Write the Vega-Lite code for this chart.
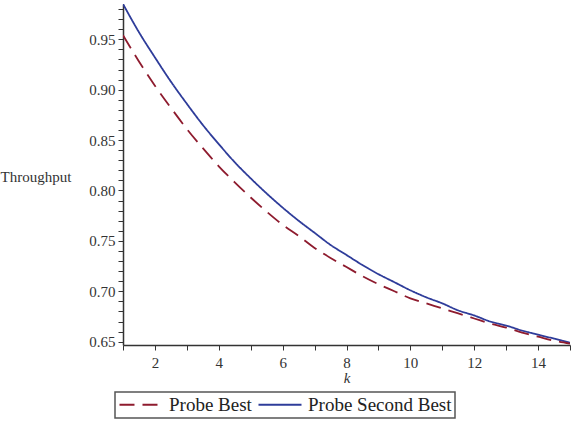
{
  "$schema": "https://vega.github.io/schema/vega-lite/v6.json",
  "width": 447,
  "height": 341,
  "autosize": {"type": "none"},
  "padding": {"left": 123, "top": 4, "right": 1, "bottom": 77},
  "background": "white",
  "config": {
    "view": {"stroke": null},
    "font": "Liberation Serif",
    "legend": {
      "orient": "none",
      "legendX": -8,
      "legendY": 388,
      "direction": "horizontal",
      "strokeColor": "#555",
      "strokeWidth": 1.5,
      "padding": 3,
      "symbolType": "stroke",
      "symbolSize": 1850,
      "symbolStrokeWidth": 2,
      "clipHeight": 19,
      "labelFont": "Liberation Serif",
      "labelFontSize": 19,
      "labelColor": "#222",
      "columnPadding": 5,
      "labelOffset": 5
    }
  },
  "data": {
    "values": [
      {"k": 1, "series": "Probe Second Best", "v": 0.985},
      {"k": 1.5, "series": "Probe Second Best", "v": 0.957},
      {"k": 2, "series": "Probe Second Best", "v": 0.932},
      {"k": 2.5, "series": "Probe Second Best", "v": 0.908},
      {"k": 3, "series": "Probe Second Best", "v": 0.886},
      {"k": 3.5, "series": "Probe Second Best", "v": 0.865},
      {"k": 4, "series": "Probe Second Best", "v": 0.846},
      {"k": 4.5, "series": "Probe Second Best", "v": 0.828},
      {"k": 5, "series": "Probe Second Best", "v": 0.812},
      {"k": 5.5, "series": "Probe Second Best", "v": 0.797},
      {"k": 6, "series": "Probe Second Best", "v": 0.783},
      {"k": 6.5, "series": "Probe Second Best", "v": 0.770},
      {"k": 7, "series": "Probe Second Best", "v": 0.758},
      {"k": 7.5, "series": "Probe Second Best", "v": 0.746},
      {"k": 8, "series": "Probe Second Best", "v": 0.736},
      {"k": 8.5, "series": "Probe Second Best", "v": 0.726},
      {"k": 9, "series": "Probe Second Best", "v": 0.717},
      {"k": 9.5, "series": "Probe Second Best", "v": 0.709},
      {"k": 10, "series": "Probe Second Best", "v": 0.701},
      {"k": 10.5, "series": "Probe Second Best", "v": 0.694},
      {"k": 11, "series": "Probe Second Best", "v": 0.688},
      {"k": 11.5, "series": "Probe Second Best", "v": 0.681},
      {"k": 12, "series": "Probe Second Best", "v": 0.676},
      {"k": 12.5, "series": "Probe Second Best", "v": 0.670},
      {"k": 13, "series": "Probe Second Best", "v": 0.666},
      {"k": 13.5, "series": "Probe Second Best", "v": 0.661},
      {"k": 14, "series": "Probe Second Best", "v": 0.657},
      {"k": 14.5, "series": "Probe Second Best", "v": 0.653},
      {"k": 15, "series": "Probe Second Best", "v": 0.649},
      {"k": 1, "series": "Probe Best", "v": 0.954},
      {"k": 1.5, "series": "Probe Best", "v": 0.928},
      {"k": 2, "series": "Probe Best", "v": 0.904},
      {"k": 2.5, "series": "Probe Best", "v": 0.882},
      {"k": 3, "series": "Probe Best", "v": 0.861},
      {"k": 3.5, "series": "Probe Best", "v": 0.842},
      {"k": 4, "series": "Probe Best", "v": 0.824},
      {"k": 4.5, "series": "Probe Best", "v": 0.808},
      {"k": 5, "series": "Probe Best", "v": 0.793},
      {"k": 5.5, "series": "Probe Best", "v": 0.779},
      {"k": 6, "series": "Probe Best", "v": 0.766},
      {"k": 6.5, "series": "Probe Best", "v": 0.755},
      {"k": 7, "series": "Probe Best", "v": 0.743},
      {"k": 7.5, "series": "Probe Best", "v": 0.733},
      {"k": 8, "series": "Probe Best", "v": 0.724},
      {"k": 8.5, "series": "Probe Best", "v": 0.715},
      {"k": 9, "series": "Probe Best", "v": 0.707},
      {"k": 9.5, "series": "Probe Best", "v": 0.700},
      {"k": 10, "series": "Probe Best", "v": 0.693},
      {"k": 10.5, "series": "Probe Best", "v": 0.688},
      {"k": 11, "series": "Probe Best", "v": 0.683},
      {"k": 11.5, "series": "Probe Best", "v": 0.678},
      {"k": 12, "series": "Probe Best", "v": 0.673},
      {"k": 12.5, "series": "Probe Best", "v": 0.668},
      {"k": 13, "series": "Probe Best", "v": 0.664},
      {"k": 13.5, "series": "Probe Best", "v": 0.659},
      {"k": 14, "series": "Probe Best", "v": 0.655},
      {"k": 14.5, "series": "Probe Best", "v": 0.651},
      {"k": 15, "series": "Probe Best", "v": 0.648}
    ]
  },
  "mark": {"type": "line", "strokeWidth": 1.8, "interpolate": "monotone", "clip": true},
  "encoding": {
    "x": {
      "field": "k",
      "type": "quantitative",
      "scale": {"domain": [1, 15], "nice": false},
      "axis": {
        "values": [1, 2, 3, 4, 5, 6, 7, 8, 9, 10, 11, 12, 13, 14, 15],
        "labelExpr": "datum.value % 2 == 0 ? datum.label : ''",
        "grid": false,
        "tickSize": 5,
        "tickColor": "#333",
        "domainColor": "#333",
        "domainWidth": 1.5,
        "labelFont": "Liberation Serif",
        "labelFontSize": 15,
        "labelColor": "#333",
        "labelPadding": 5,
        "title": "k",
        "titleFont": "Liberation Serif",
        "titleFontStyle": "italic",
        "titleFontWeight": "normal",
        "titleFontSize": 15,
        "titleColor": "#333",
        "titlePadding": 0
      }
    },
    "y": {
      "field": "v",
      "type": "quantitative",
      "scale": {"domain": [0.6467, 0.985], "nice": false, "zero": false},
      "axis": {
        "values": [0.65, 0.66, 0.67, 0.68, 0.69, 0.70, 0.71, 0.72, 0.73, 0.74, 0.75, 0.76, 0.77, 0.78, 0.79, 0.80, 0.81, 0.82, 0.83, 0.84, 0.85, 0.86, 0.87, 0.88, 0.89, 0.90, 0.91, 0.92, 0.93, 0.94, 0.95, 0.96, 0.97, 0.98],
        "labelExpr": "round(datum.value * 100) % 5 == 0 ? format(datum.value, '.2f') : ''",
        "grid": false,
        "tickSize": 5,
        "tickColor": "#333",
        "domainColor": "#333",
        "domainWidth": 1.5,
        "labelFont": "Liberation Serif",
        "labelFontSize": 15,
        "labelColor": "#333",
        "labelPadding": 3,
        "title": "Throughput",
        "titleFont": "Liberation Serif",
        "titleFontWeight": "normal",
        "titleFontSize": 15,
        "titleColor": "#333",
        "titleAngle": 0,
        "titleAlign": "left",
        "titleBaseline": "middle",
        "titleX": -123,
        "titleY": 172
      }
    },
    "color": {
      "field": "series",
      "type": "nominal",
      "scale": {"domain": ["Probe Best", "Probe Second Best"], "range": ["#8E1B2E", "#2E3C9A"]},
      "legend": {"title": null}
    },
    "strokeDash": {
      "field": "series",
      "type": "nominal",
      "scale": {"domain": ["Probe Best", "Probe Second Best"], "range": [[15, 8], [1, 0]]},
      "legend": {"title": null}
    }
  }
}
